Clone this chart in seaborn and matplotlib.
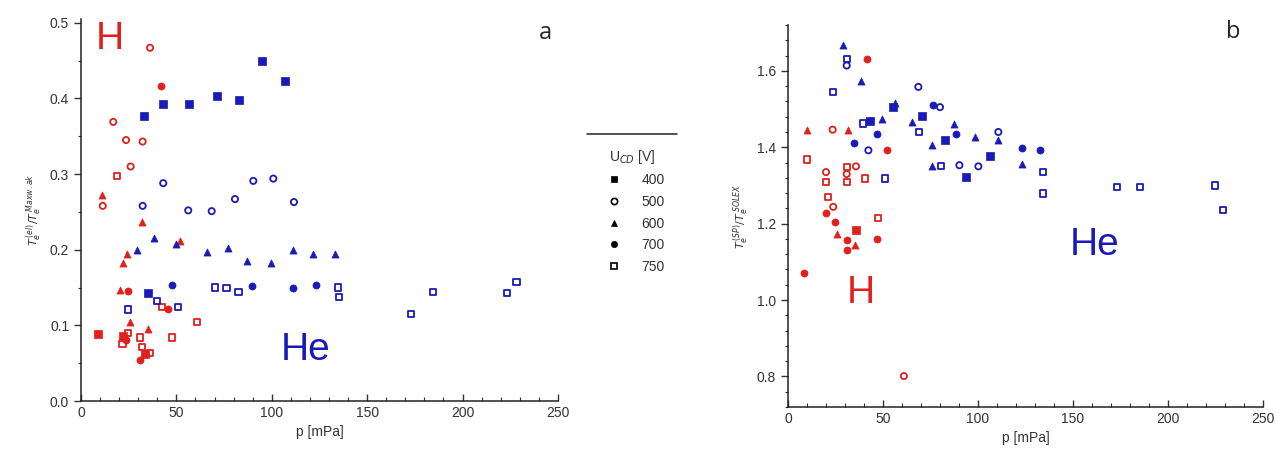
import numpy as np
import pandas as pd
import matplotlib
matplotlib.use("Agg")
import matplotlib.pyplot as plt
from matplotlib.lines import Line2D
from matplotlib.ticker import MultipleLocator
import seaborn as sns

# ---------------- data ----------------
voltages = [400, 500, 600, 700, 750]
gases = ["H", "He"]

# panel a : H
a_H_p = [36.2, 41.9, 16.9, 23.6, 32.3, 26.0, 18.7, 10.8, 11.4, 31.8, 51.9, 23.9, 22.2,
         20.4, 24.8, 45.8, 42.3, 25.7, 35.3, 9.1, 22.0, 24.5, 23.5, 21.8, 30.9, 31.8,
         36.2, 33.5, 30.9, 47.5, 60.6]
a_H_v = [0.467, 0.416, 0.369, 0.345, 0.343, 0.310, 0.297, 0.272, 0.258, 0.237, 0.211, 0.195,
         0.182, 0.147, 0.145, 0.121, 0.124, 0.104, 0.095, 0.088, 0.086, 0.090, 0.080, 0.075,
         0.084, 0.071, 0.063, 0.062, 0.054, 0.084, 0.104]
a_H_u = [500, 700, 500, 500, 500, 500, 750, 600, 500, 600, 600, 600, 600,
         600, 700, 700, 750, 600, 600, 400, 400, 750, 700, 750, 750, 750,
         750, 400, 700, 750, 750]

# panel a : He
a_He_p = [33.0, 42.8, 56.8, 71.1, 83.0, 94.7, 106.9, 35.3,
          32.3, 43.1, 56.2, 68.5, 80.7, 90.3, 100.8, 111.6,
          29.2, 38.4, 49.8, 65.9, 76.9, 87.2, 99.4, 111.3, 121.8, 133.1,
          47.5, 89.5, 111.3, 123.2,
          24.8, 39.7, 51.0, 70.2, 76.3, 82.5, 134.9, 135.4, 173.0, 184.7, 223.4, 228.3]
a_He_v = [0.377, 0.392, 0.392, 0.403, 0.398, 0.449, 0.423, 0.143,
          0.258, 0.288, 0.252, 0.251, 0.267, 0.291, 0.294, 0.263,
          0.200, 0.215, 0.207, 0.197, 0.202, 0.185, 0.182, 0.199, 0.195, 0.195,
          0.154, 0.152, 0.149, 0.154,
          0.121, 0.132, 0.124, 0.150, 0.149, 0.144, 0.150, 0.137, 0.115, 0.144, 0.143, 0.157]
a_He_u = [400] * 8 + [500] * 8 + [600] * 10 + [700] * 4 + [750] * 12

# panel b : H
b_H_p = [41.4, 51.9, 20.0, 24.7, 30.9, 30.9, 46.7, 8.4,
         10.2, 31.4, 25.6, 35.3,
         23.5, 35.8, 30.9, 23.8, 61.0, 20.0,
         10.2, 20.0, 30.9, 40.5, 21.2, 47.5, 30.9,
         35.8]
b_H_v = [1.632, 1.392, 1.227, 1.205, 1.157, 1.131, 1.159, 1.071,
         1.444, 1.444, 1.174, 1.144,
         1.446, 1.350, 1.330, 1.244, 0.801, 1.335,
         1.368, 1.309, 1.310, 1.318, 1.270, 1.214, 1.349,
         1.183]
b_H_u = [700] * 8 + [600] * 4 + [500] * 6 + [750] * 7 + [400]

# panel b : He
b_He_p = [43.2, 55.4, 70.4, 82.6, 93.7, 106.3,
          30.9, 68.6, 80.0, 42.3, 90.2, 100.2, 110.7,
          28.8, 38.4, 49.3, 56.5, 65.1, 87.4, 75.6, 98.4, 110.7, 123.0, 76.0,
          34.7, 46.7, 76.5, 88.4, 123.0, 132.6,
          30.9, 23.5, 39.6, 69.1, 80.5, 51.0, 134.4, 134.4, 173.0, 185.3, 224.7, 229.1]
b_He_v = [1.470, 1.505, 1.481, 1.418, 1.322, 1.378,
          1.614, 1.558, 1.505, 1.392, 1.353, 1.350, 1.440,
          1.667, 1.573, 1.475, 1.515, 1.466, 1.462, 1.405, 1.427, 1.420, 1.356, 1.350,
          1.410, 1.436, 1.510, 1.434, 1.397, 1.392,
          1.632, 1.545, 1.462, 1.440, 1.350, 1.318, 1.335, 1.279, 1.296, 1.296, 1.300, 1.235]
b_He_u = [400] * 6 + [500] * 7 + [600] * 11 + [700] * 6 + [750] * 12

# ---------------- styling ----------------
colors = {"H": "#e0201c", "He": "#1a1ab8"}
markers = {400: "s", 500: "o", 600: "^", 700: "o", 750: "s"}
open_markers = {500, 750}


def frame(p, v, u, gas):
    return pd.DataFrame({"p": p, "val": v, "U": u, "gas": gas})


df_a = pd.concat([frame(a_H_p, a_H_v, a_H_u, "H"), frame(a_He_p, a_He_v, a_He_u, "He")])
df_b = pd.concat([frame(b_H_p, b_H_v, b_H_u, "H"), frame(b_He_p, b_He_v, b_He_u, "He")])

sns.set_style("ticks")
plt.rcParams["font.family"] = ["Liberation Sans", "DejaVu Sans"]

fig = plt.figure(figsize=(12.88, 4.73), dpi=100)
ax_a = fig.add_axes([0.0629, 0.1522, 0.3703, 0.8076])
ax_b = fig.add_axes([0.6118, 0.1395, 0.3688, 0.8076])


def draw(ax, df):
    for gas in gases:
        for u in voltages:
            sub = df[(df.gas == gas) & (df.U == u)]
            if sub.empty:
                continue
            col = colors[gas]
            is_open = u in open_markers
            sns.scatterplot(data=sub, x="p", y="val", ax=ax, color=col,
                            marker=markers[u], s=20 if is_open else 26,
                            linewidth=1.3 if is_open else 0.5, legend=False, zorder=3)
            coll = ax.collections[-1]
            coll.set_edgecolor(col)
            if is_open:
                coll.set_facecolor("none")
            else:
                coll.set_facecolor(col)


draw(ax_a, df_a)
draw(ax_b, df_b)

tick_col = "#333333"
for ax in (ax_a, ax_b):
    sns.despine(ax=ax)
    ax.set_xlim(0, 250)
    ax.xaxis.set_major_locator(MultipleLocator(50))
    ax.xaxis.set_minor_locator(MultipleLocator(10))
    ax.tick_params(axis="x", which="both", direction="in", colors=tick_col, labelsize=10)
    ax.tick_params(axis="x", which="major", length=5, width=1)
    ax.tick_params(axis="x", which="minor", length=3, width=0.8)
    ax.tick_params(axis="y", which="major", direction="out", length=5, width=1,
                   colors=tick_col, labelsize=10)
    ax.tick_params(axis="y", which="minor", direction="out", length=2.5, width=0.8,
                   colors=tick_col)
    for sp in ("left", "bottom"):
        ax.spines[sp].set_color("#222222")
        ax.spines[sp].set_linewidth(1.1)
    ax.set_xlabel("p [mPa]", fontsize=10, color=tick_col)

ax_a.set_ylim(0, 0.505)
ax_a.yaxis.set_major_locator(MultipleLocator(0.1))
ax_a.yaxis.set_minor_locator(MultipleLocator(0.05))
ax_a.yaxis.set_major_formatter(matplotlib.ticker.FormatStrFormatter("%.1f"))
ax_a.set_ylabel(r"$T_e^{\,(el)}/T_e^{\,Maxw.ak}$", fontsize=8, color=tick_col, labelpad=4)

ax_b.set_ylim(0.72, 1.72)
ax_b.yaxis.set_major_locator(MultipleLocator(0.2))
ax_b.yaxis.set_minor_locator(MultipleLocator(0.04))
ax_b.yaxis.set_major_formatter(matplotlib.ticker.FormatStrFormatter("%.1f"))
ax_b.set_ylabel(r"$T_e^{\,(SP)}/T_e^{\,SOLEX}$", fontsize=8, color=tick_col, labelpad=4)

# gas labels
ax_a.text(15, 0.466, "H", color=colors["H"], fontsize=28, ha="center", va="baseline")
ax_a.text(117.5, 0.054, "He", color=colors["He"], fontsize=28, ha="center", va="baseline")
ax_b.text(38.4, 0.992, "H", color=colors["H"], fontsize=28, ha="center", va="baseline")
ax_b.text(161.6, 1.118, "He", color=colors["He"], fontsize=28, ha="center", va="baseline")

# panel letters
fig.text(545 / 1288, 1 - 33 / 473, "a", fontsize=17, ha="center", va="center",
         family=["Open Sans", "DejaVu Sans"])
fig.text(1233 / 1288, 1 - 32 / 473, "b", fontsize=17, ha="center", va="center",
         family=["Open Sans", "DejaVu Sans"])

# legend (black symbols)
handles = []
for u in voltages:
    is_open = u in open_markers
    handles.append(Line2D([], [], linestyle="none", marker=markers[u], color="black",
                          markerfacecolor="none" if is_open else "black",
                          markersize=4.5, markeredgewidth=1.2 if is_open else 0.5))
leg = fig.legend(handles, [str(u) for u in voltages], title=r"U$_{CD}$ [V]",
                 loc="upper left", bbox_to_anchor=(590 / 1288, 1 - 138 / 473),
                 frameon=False, fontsize=10, title_fontsize=10, handletextpad=1.0,
                 labelspacing=0.55, borderpad=0.2)
for t in leg.get_texts():
    t.set_color(tick_col)
leg.get_title().set_color(tick_col)
fig.add_artist(Line2D([587 / 1288, 677 / 1288], [1 - 134 / 473, 1 - 134 / 473],
                      transform=fig.transFigure, color="#222222", lw=1.1))

fig.savefig("out.png", dpi=100)
